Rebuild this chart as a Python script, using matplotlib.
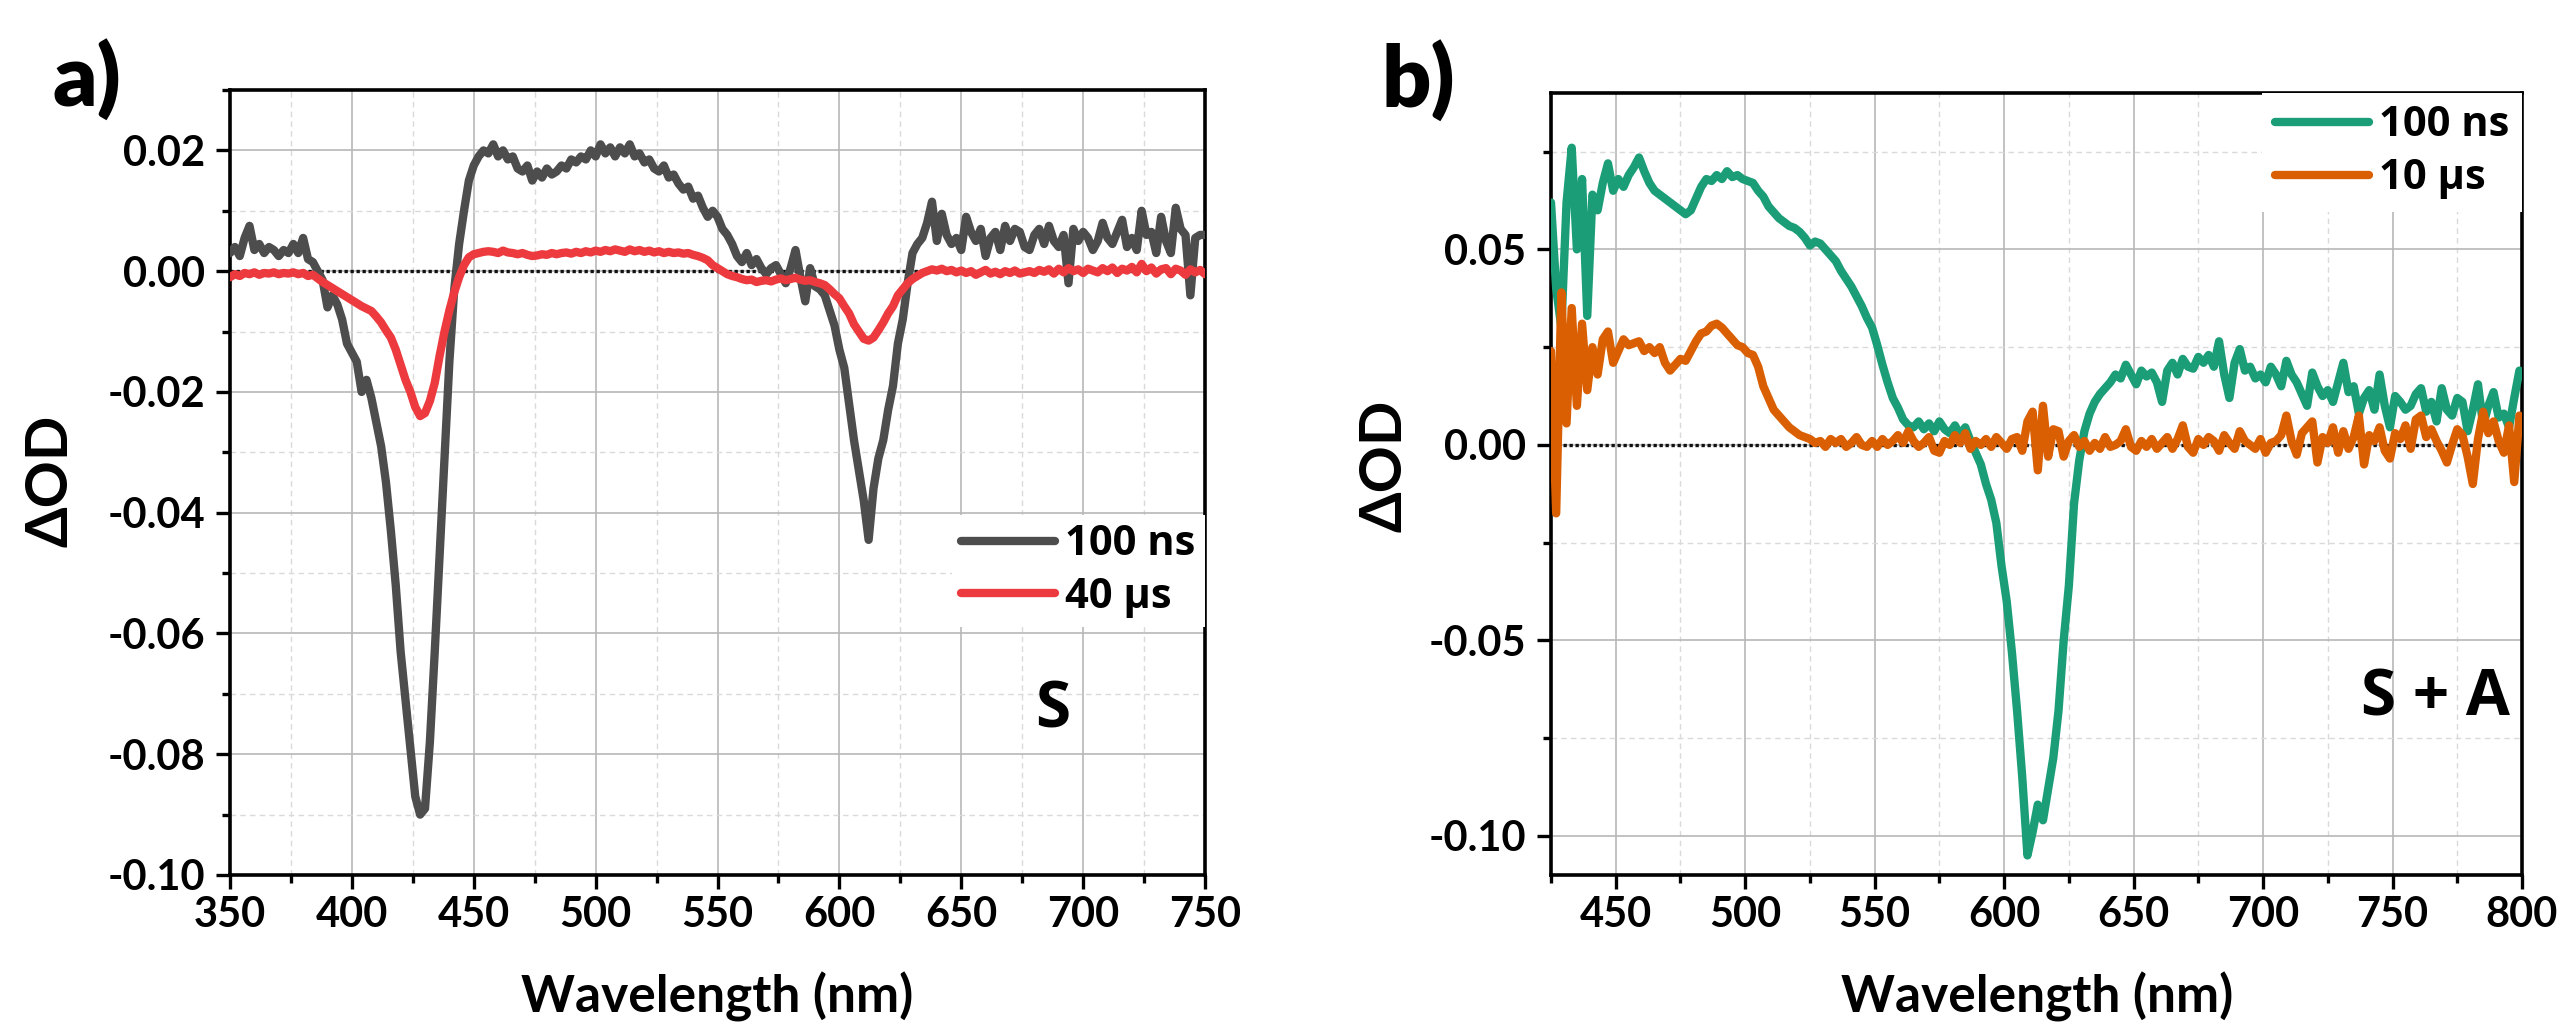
import numpy as np
import matplotlib
matplotlib.use("Agg")
import matplotlib.pyplot as plt
from matplotlib.ticker import MultipleLocator, FuncFormatter
from matplotlib.font_manager import FontProperties

# ---------------- data (ΔOD in mOD) ----------------
# panel a: wavelength grid 350..750 nm every 2 nm
wl_a = np.arange(350, 751, 2)
a_100ns = [
    3.0, 4.0, 2.5, 5.5, 7.5, 3.5, 4.5, 3.0, 4.0, 3.5,
    2.5, 3.5, 3.0, 4.5, 3.0, 5.5, 2.0, 1.5, 0.0, -1.5,
    -6.0, -4.0, -5.5, -8.0, -12.0, -13.5, -15.0, -20.0, -18.0, -21.0,
    -25.0, -29.0, -35.0, -43.0, -52.0, -63.0, -71.0, -79.0, -87.0, -90.0,
    -89.0, -78.0, -63.0, -47.0, -31.0, -15.0, -3.0, 4.5, 10.0, 15.0,
    17.5, 19.0, 20.0, 19.5, 21.0, 19.0, 20.0, 18.5, 19.0, 17.0,
    16.5, 17.5, 15.0, 16.5, 15.5, 17.0, 16.0, 16.5, 17.5, 17.0,
    18.5, 18.0, 19.0, 18.5, 20.0, 19.0, 21.0, 19.5, 20.5, 19.0,
    20.5, 19.5, 21.0, 19.0, 19.5, 18.0, 18.5, 17.0, 16.5, 17.5,
    15.5, 16.0, 14.5, 13.5, 14.0, 12.0, 12.5, 10.5, 9.0, 10.0,
    9.0, 7.0, 6.0, 4.5, 2.5, 1.5, 3.0, 1.0, 2.0, 0.5,
    -0.5, 0.5, 1.0, -0.5, -2.0, 0.5, 3.5, -1.0, -5.0, 0.5,
    -2.5, -3.0, -4.0, -6.5, -9.0, -13.0, -16.0, -22.0, -28.0, -33.0,
    -38.0, -44.5, -36.0, -31.0, -28.0, -23.0, -19.0, -12.0, -8.0, -2.0,
    3.0, 4.5, 5.5, 8.0, 11.5, 5.0, 9.5, 6.0, 4.5, 5.5,
    3.5, 9.0, 6.5, 5.0, 7.0, 2.5, 5.5, 6.5, 3.5, 7.5,
    5.0, 7.0, 6.5, 4.0, 3.5, 6.0, 7.0, 4.5, 7.5, 5.0,
    4.0, 6.0, -2.0, 7.0, 5.0, 6.5, 5.5, 3.5, 5.0, 8.0,
    5.5, 4.5, 6.5, 8.5, 4.0, 5.5, 3.5, 10.0, 6.0, 6.5,
    3.0, 9.0, 5.0, 3.0, 10.5, 7.0, 6.0, -4.0, 5.5, 6.0,
    6.0,
]
a_40us = [
    -1.0, -0.5, -0.8, -0.3, -0.5, -0.2, -0.6, -0.3, -0.4, -0.2,
    -0.5, -0.3, -0.4, -0.2, -0.5, -0.3, -0.8, -0.6, -1.2, -1.8,
    -2.3, -2.8, -3.3, -3.8, -4.3, -4.8, -5.3, -5.8, -6.2, -6.6,
    -7.5, -8.5, -9.8, -11.0, -13.0, -15.5, -18.0, -20.0, -22.5, -24.0,
    -23.5, -21.5, -18.5, -14.0, -10.0, -6.5, -3.5, -1.0, 1.0, 2.3,
    2.8, 3.0, 3.2, 3.3, 3.2, 3.0, 3.4, 3.1, 3.0, 2.8,
    3.0, 2.7, 2.5, 2.6, 2.8, 2.7, 3.0, 2.8, 3.0, 3.1,
    2.9, 3.2, 3.0, 3.3, 3.1, 3.4, 3.2, 3.5, 3.3, 3.6,
    3.4, 3.2, 3.6, 3.3, 3.5, 3.2, 3.4, 3.1, 3.3, 3.0,
    3.2, 3.0, 3.1, 2.9, 3.0, 2.7, 2.5, 2.2, 1.8, 1.0,
    0.5, 0.0, -0.5, -0.8, -1.0, -1.3, -1.5, -1.4, -1.8, -1.6,
    -1.5, -1.7, -1.4, -1.2, -1.5, -1.3, -1.1, -1.4, -1.6, -1.5,
    -1.8, -2.0, -2.3, -3.0, -3.8, -4.5, -5.8, -7.0, -8.8, -10.0,
    -11.2, -11.5, -11.0, -9.8, -8.5, -7.0, -5.8, -4.0, -3.0, -2.0,
    -1.3, -0.8, -0.3, 0.0, 0.3, 0.1, 0.4, 0.0, 0.2, -0.2,
    0.1, -0.3, 0.0, -0.6, -0.2, 0.2, -0.4, -0.1, -0.5, 0.0,
    -0.3, 0.1, -0.4, -0.2, 0.0, -0.3, 0.2, -0.1, 0.3, -0.4,
    0.4, -0.2, 0.5, 0.0, 0.3, -0.3, 0.4, 0.1, -0.2, 0.5,
    0.0, 0.6, -0.3, 0.4, 0.1, 0.7, -0.2, 1.2, 0.0, 0.6,
    -0.4, 0.3, 0.5, -0.5, 0.4, 0.1, -0.6, 0.3, -0.2, 0.2,
    -0.5,
]

# panel b: wavelength grid 425..799 nm every 2 nm
wl_b = np.arange(425, 800, 2)
b_100ns = [
    62, 40, 30, 62, 76, 50, 68, 33, 64, 60,
    67, 72, 65, 68, 66, 69, 71, 73.5, 70, 67,
    65, 64, 63, 62, 61, 60, 59, 60, 63, 66,
    68, 67.5, 69, 68, 70, 68.5, 69, 68, 67.5, 67,
    65, 63.5, 61, 59.5, 58, 57, 56, 55.5, 54.5, 53,
    51, 52, 51.5, 50, 48.5, 47, 44.5, 42.5, 40.5, 38,
    35.5, 32.5, 30, 25.5, 20.5, 16, 12, 9.5, 6.5, 5,
    4.5, 6, 4, 5.5, 3.5, 6, 4, 3, 5, 2.5,
    4.5, 1, -2, -5, -10, -14, -20, -31, -40, -53,
    -68, -85, -105, -99, -92, -96, -88, -80, -68, -50,
    -36, -15, -4, 3.5, 8, 11, 13, 14.5, 16, 18,
    17, 20.5, 18, 15.5, 19, 17.5, 18.5, 16, 11, 19,
    21, 18, 22, 20, 19.5, 22.5, 21, 23, 20, 26.5,
    18, 12, 21, 24.5, 19, 20, 17, 18, 16, 20,
    18, 15, 21.5, 18, 16, 13, 10, 18.5, 15, 12.5,
    14, 11, 16, 21, 13.5, 15, 8, 12, 14, 9,
    18, 10, 4.5, 12.5, 11, 9, 10, 13, 14.5, 8.5,
    11, 6, 14.5, 9, 7.5, 12, 11, 3.5, 9, 15.5,
    5, 10, 13.5, 7, 8, 4.5, 12, 19,
]
b_10us = [
    24, -17.5, 39, 5.5, 35, 10, 31, 14, 25, 18,
    27, 29, 21, 24, 27, 25.5, 26, 26.5, 24, 25,
    23.5, 25, 21, 19, 20.5, 22, 21.5, 24, 26.5, 28.5,
    29, 30.5, 31, 30, 28.5, 27, 25.5, 25, 23.5, 23,
    20, 15, 12, 9, 7.5, 6, 4.5, 3.5, 2.5, 2,
    1.5, 0.5, 1, -0.5, 1.5, 0.5, 1.5, -0.5, 0.5, 2,
    0, -0.5, 1, -0.5, 1.5, 0, 1, 2.5, 0.5, 3.5,
    1, -0.5, 0.5, 2, -1.5, -2, 1, 0, 2.5, 0.5,
    3, -1, 1, 0, 1.5, -0.5, 2, 0.5, -1, 1.5,
    2, -1.5, 6, 8.5, -6.5, 10, -3, 4, 3.5, -3,
    1, 2.5, -0.5, 1, -1.5, 0.5, -1, 2, -0.5, 0,
    1, 4, -0.5, -1.5, 1, -0.5, 1.5, -1, 0.5, 2,
    -1, 1.5, 5, -0.5, -2, 1.5, 0, 2, 1, -1.5,
    2.5, 0.5, -1, 3.5, 1, 0, -1, 1.5, -2, 0.5,
    1, 2.5, 7.5, 1, -2.5, 3, 4.5, 6, -4.5, 2,
    0.5, 4.5, -2, 3.5, -1, 2, 7.5, -5, 2.5, 1,
    4.5, -1.5, -3.5, 3, 1.5, 5, -1, 6.5, 7.5, 2,
    4, 1, -1.5, -4.5, 0, 4, 2.5, -3, -10, 1.5,
    8.5, 3, 6, 1, -2, 5, -9.5, 7.5,
]

labels_a = ["100 ns", "40 μs"]
labels_b = ["100 ns", "10 μs"]
colors_a = ["#4d4d4d", "#ec3a3e"]
colors_b = ["#1b9e77", "#d95f02"]

# ---------------- style ----------------
plt.rcParams["font.family"] = ["Lato", "DejaVu Sans"]
plt.rcParams["font.weight"] = "bold"
plt.rcParams["axes.unicode_minus"] = False

W, H = 2560, 1029
fig = plt.figure(figsize=(W / 100, H / 100), dpi=100)


def fx(px):
    return px / W


def fy(py):
    return 1 - py / H


axa = fig.add_axes([fx(230), fy(875), fx(1205) - fx(230), fy(90) - fy(875)])
axb = fig.add_axes([fx(1551), fy(875), fx(2522) - fx(1551), fy(93) - fy(875)])

LW = 6.0
LEG_FS = 30
leg_font = FontProperties(family=["Open Sans", "DejaVu Sans"], weight="bold", size=LEG_FS)


def fmt(v, pos):
    if abs(v) < 1e-9:
        return "0.00"
    return f"{v:.2f}"


def style(ax):
    ax.set_axisbelow(True)
    ax.grid(which="major", color="#b8b8b8", lw=1.2, ls="-")
    ax.grid(which="minor", color="#dadada", lw=1.0, ls=(0, (4, 3)))
    for sp in ax.spines.values():
        sp.set_linewidth(2.6)
        sp.set_color("black")
    ax.tick_params(which="both", direction="out", top=False, right=False,
                   width=2.4, color="black", labelsize=30)
    ax.tick_params(which="major", length=10)
    ax.tick_params(which="minor", length=6)
    ax.tick_params(axis="y", which="both", pad=8)
    ax.tick_params(axis="x", which="both", pad=5)
    ax.axhline(0, color="#111111", lw=2.4, ls=(0, (1, 0.8)), zorder=2)
    ax.yaxis.set_major_formatter(FuncFormatter(fmt))


def legend(ax, handles, ytop, bpad):
    return ax.legend(handles=handles, loc="upper right", bbox_to_anchor=(1.0, ytop),
                     frameon=True, facecolor="white", edgecolor="none", framealpha=1,
                     fancybox=False, prop=leg_font, handlelength=2.25, handletextpad=0.25,
                     labelspacing=0.28, borderpad=bpad, borderaxespad=0)


# panel a
style(axa)
axa.set_xlim(350, 750)
axa.set_ylim(-0.10, 0.03)
axa.xaxis.set_major_locator(MultipleLocator(50))
axa.xaxis.set_minor_locator(MultipleLocator(25))
axa.yaxis.set_major_locator(MultipleLocator(0.02))
axa.yaxis.set_minor_locator(MultipleLocator(0.01))
la1, = axa.plot(wl_a, np.array(a_100ns) / 1000, color=colors_a[0], lw=LW,
                solid_capstyle="round", solid_joinstyle="round", zorder=3, label=labels_a[0])
la2, = axa.plot(wl_a, np.array(a_40us) / 1000, color=colors_a[1], lw=LW,
                solid_capstyle="round", solid_joinstyle="round", zorder=4, label=labels_a[1])
legend(axa, [la1, la2], (875 - 515) / 785, 0.22)

# panel b
style(axb)
axb.set_xlim(425, 800)
axb.set_ylim(-0.11, 0.09)
axb.xaxis.set_major_locator(MultipleLocator(50))
axb.xaxis.set_minor_locator(MultipleLocator(25))
axb.yaxis.set_major_locator(MultipleLocator(0.05))
axb.yaxis.set_minor_locator(MultipleLocator(0.025))
lb1, = axb.plot(wl_b, np.array(b_100ns) / 1000, color=colors_b[0], lw=LW,
                solid_capstyle="round", solid_joinstyle="round", zorder=3, label=labels_b[0])
lb2, = axb.plot(wl_b, np.array(b_10us) / 1000, color=colors_b[1], lw=LW,
                solid_capstyle="round", solid_joinstyle="round", zorder=4, label=labels_b[1])
legend(axb, [lb1, lb2], 1.0, 0.3)

for ax in (axa, axb):
    for lab in ax.get_xticklabels() + ax.get_yticklabels():
        lab.set_fontweight("bold")

# texts
lab_font = dict(family=["Lato", "DejaVu Sans"], weight="bold")
fig.text(fx(717), fy(1012), "Wavelength (nm)", ha="center", va="baseline", fontsize=37, **lab_font)
fig.text(fx(2037), fy(1012), "Wavelength (nm)", ha="center", va="baseline", fontsize=37, **lab_font)
fig.text(fx(51), fy(481), "ΔOD", ha="center", va="center", rotation=90, fontsize=42, **lab_font)
fig.text(fx(1385), fy(466), "ΔOD", ha="center", va="center", rotation=90, fontsize=42, **lab_font)

panel_font = dict(family=["Lato", "DejaVu Sans"], weight="heavy")
fig.text(fx(52), fy(107), "a)", ha="left", va="baseline", fontsize=62, **panel_font)
fig.text(fx(1381), fy(108), "b)", ha="left", va="baseline", fontsize=62, **panel_font)

tag_font = dict(family=["Open Sans", "DejaVu Sans"], weight="bold")
fig.text(fx(1053), fy(728), "S", ha="center", va="baseline", fontsize=46, **tag_font)
fig.text(fx(2510), fy(715), "S + A", ha="right", va="baseline", fontsize=46, **tag_font)

fig.savefig("out.png", dpi=100, facecolor="white")
